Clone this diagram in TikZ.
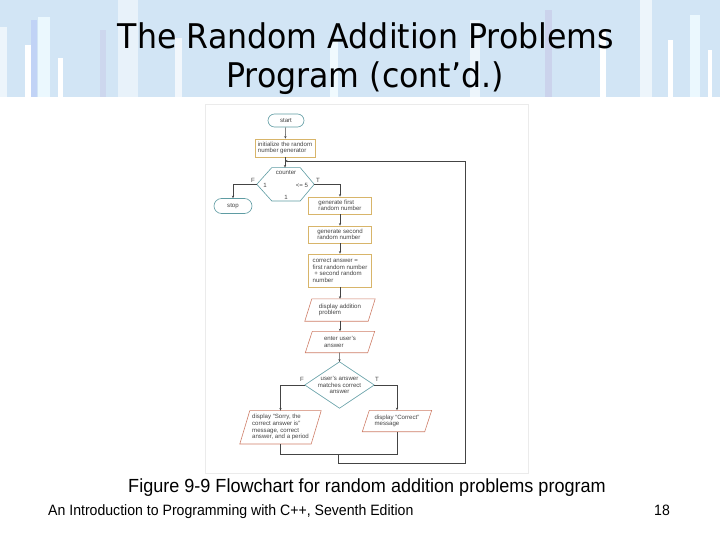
\documentclass[tikz,border=0pt]{standalone}
\usepackage{fontspec}
\setmainfont{Liberation Sans}
\newfontfamily\titlefont{DejaVu Sans}
\usetikzlibrary{shapes.misc,calc,arrows.meta}
\definecolor{bandc}{HTML}{D2E5F5}
\definecolor{procc}{HTML}{D8B56A}
\definecolor{ioc}{HTML}{CF7E68}
\definecolor{termc}{HTML}{5F9CA3}
\definecolor{txtc}{HTML}{444444}
\definecolor{linec}{HTML}{444444}
\newcommand\drawpara[2]{\draw[iob] ($(#1.north west)+(#2/2,0)$) -- ($(#1.north east)+(#2/2,0)$) -- ($(#1.south east)+(-#2/2,0)$) -- ($(#1.south west)+(-#2/2,0)$) -- cycle;}
\begin{document}
\begin{tikzpicture}[x=1pt,y=-1pt,
  small/.style={font=\fontsize{6.1}{6.6}\selectfont, text=txtc},
  proc/.style={small, draw=procc, line width=0.6pt, fill=white, minimum width=63pt, minimum height=17pt, inner sep=1pt, align=left},
  term/.style={small, draw=termc, line width=0.6pt, rounded rectangle, minimum width=38pt, minimum height=13pt, inner sep=1pt},
  iobody/.style={small, inner sep=1pt, align=left},
  iob/.style={draw=ioc, line width=0.6pt},
  decb/.style={draw=termc, line width=0.6pt},
  lab/.style={small, inner sep=0.5pt},
  conn/.style={draw=linec, line width=0.5pt},
  arr/.style={conn, -{Stealth[length=2.6pt,width=2.2pt]}},
  stripe/.style={draw=none}]
\useasboundingbox (0,0) rectangle (720,540);
\fill[white] (0,0) rectangle (720,540);
% title band
\fill[bandc] (0,0) rectangle (720,97);
\fill[stripe, fill=white!60!bandc] (0,27) rectangle (7,97);
\fill[stripe, fill=white] (25,45) rectangle (31,97);
\fill[stripe, fill=blue!8!bandc] (31,20) rectangle (37,97);
\fill[stripe, fill=cyan!8!white] (38,17) rectangle (50,97);
\fill[stripe, fill=white] (58,58) rectangle (63,97);
\fill[stripe, fill=violet!6!bandc] (100,30) rectangle (106,97);
\fill[stripe, fill=white!50!bandc] (118,0) rectangle (138,97);
\fill[stripe, fill=white!70!bandc] (175,38) rectangle (182,97);
\fill[stripe, fill=cyan!6!white] (330,40) rectangle (338,97);
\fill[stripe, fill=white!60!bandc] (470,20) rectangle (480,97);
\fill[stripe, fill=violet!8!bandc] (545,10) rectangle (552,97);
\fill[stripe, fill=white] (600,30) rectangle (606,97);
\fill[stripe, fill=white!60!bandc] (640,0) rectangle (652,97);
\fill[stripe, fill=white] (668,40) rectangle (673,97);
\fill[stripe, fill=cyan!8!white] (690,15) rectangle (700,97);
\fill[stripe, fill=white] (708,50) rectangle (712,97);
\node[anchor=base, inner sep=0] (t1) at (366,49) {\titlefont\fontsize{34}{34}\selectfont\scalebox{0.93}[1]{The Random Addition Problems}};
\node[anchor=base, inner sep=0] (t2) at (365,87.5) {\titlefont\fontsize{34}{34}\selectfont\scalebox{0.93}[1]{Program (cont’d.)}};
% figure area
\draw[draw=black!8, fill=white] (205,104) rectangle (528,473);
% flowchart
\node[term] (start) at (286,120.5) {start};
\node[proc, minimum width=60pt, minimum height=18pt] (init) at (285,148) {initialize the random\\number generator};
\node[inner sep=0, minimum width=57pt, minimum height=33pt] (cnt) at (285.5,184.3) {};
\draw[decb] (cnt.west) -- ($(cnt.north west)+(15,0)$) -- ($(cnt.north east)+(-14,0)$) -- (cnt.east) -- ($(cnt.south east)+(-14,0)$) -- ($(cnt.south west)+(15,0)$) -- cycle;
\node[lab] (cntt) at (286,173) {counter};
\node[lab] (cntl) at (265,185) {1};
\node[lab] (cntr) at (302,185) {<= 5};
\node[lab] (cntb) at (286,197) {1};
\node[lab] (fl1) at (253,180) {F};
\node[lab] (tl1) at (318,180) {T};
\node[term, minimum width=40pt, minimum height=15pt] (stop) at (233,206) {stop};
\node[proc] (gen1) at (340,205.5) {generate first\\random number};
\node[proc] (gen2) at (340,234.5) {generate second\\random number};
\node[proc, minimum height=33pt] (corr) at (340,270.5) {correct answer =\\first random number\\\ + second random\\number};
\node[iobody, minimum width=63pt, minimum height=22pt] (disp) at (340,310) {display addition\\problem};
\drawpara{disp}{7}
\node[iobody, minimum width=62pt, minimum height=21pt] (enter) at (340,342) {enter user’s\\answer};
\drawpara{enter}{7}
\node[small, inner sep=0, minimum width=69pt, minimum height=46pt, align=center] (dia) at (339.5,385) {user’s answer\\matches correct\\answer};
\draw[decb] (dia.north) -- (dia.east) -- (dia.south) -- (dia.west) -- cycle;
\node[lab] (fl2) at (302,379) {F};
\node[lab] (tl2) at (377,379) {T};
\node[iobody, minimum width=71pt, minimum height=33pt] (sorry) at (280.5,427.3) {display “Sorry, the\\correct answer is”\\message, correct\\answer, and a period};
\drawpara{sorry}{10}
\node[iobody, minimum width=62pt, minimum height=21pt] (ok) at (397,421) {display “Correct”\\message};
\drawpara{ok}{7}
% connectors
\draw[arr] (start) -- (init);
\draw[arr] (init) -- (cnt.north -| init);
\draw[arr] (cnt.west) -| (stop.north);
\draw[arr] (cnt.east) -| (gen1.north);
\draw[arr] (gen1) -- (gen2);
\draw[arr] (gen2) -- (corr);
\draw[arr] (corr) -- (disp);
\draw[arr] (disp) -- (enter);
\draw[arr] (enter) -- (dia.north);
\draw[arr] (dia.west) -| (sorry.north);
\draw[arr] (dia.east) -| (ok.north);
\coordinate (j1) at (280.5,454);
\coordinate (j2) at (397,454);
\coordinate (jm) at (338,454);
\coordinate (jb) at (338,463);
\coordinate (jr) at (465,463);
\coordinate (jt) at (465,161);
\coordinate (ji) at (285,161);
\draw[conn] (sorry.south) -- (j1) -- (j2) -- (ok.south);
\draw[arr] (jm) -- (jb) -- (jr) -- (jt) -- (ji);
% caption and footer
\node[anchor=base, inner sep=0] (cap) at (367,492) {\fontsize{19}{19}\selectfont\scalebox{0.95}[1]{Figure 9-9 Flowchart for random addition problems program}};
\node[anchor=base west, inner sep=0] (foot) at (48,515.5) {\fontsize{15}{15}\selectfont\scalebox{0.94}[1]{An Introduction to Programming with C++, Seventh Edition}};
\node[anchor=base, inner sep=0] (pg) at (662,515.5) {\fontsize{15}{15}\selectfont\scalebox{0.94}[1]{18}};
\end{tikzpicture}
\end{document}
